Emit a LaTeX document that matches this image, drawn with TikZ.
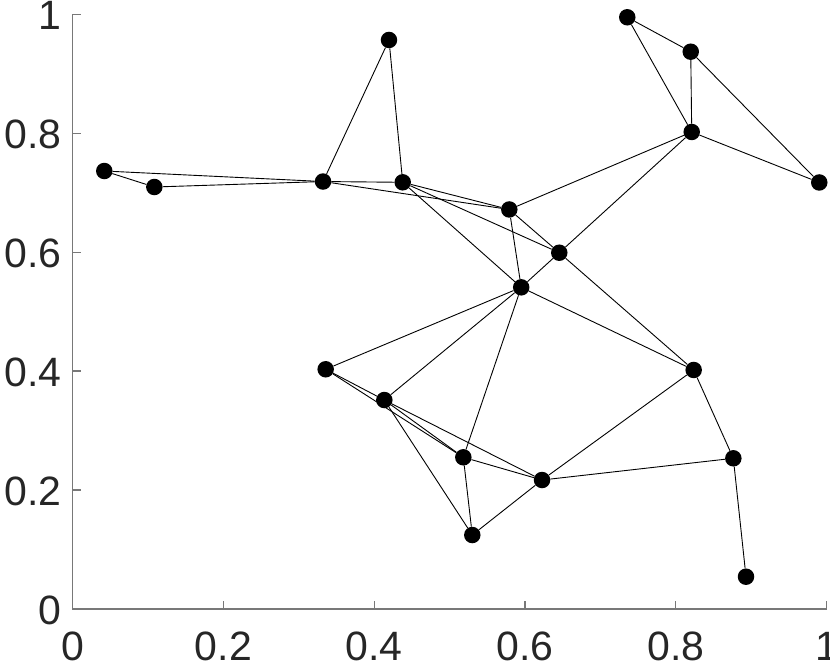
\documentclass[tikz,border=0pt]{standalone}
\usepackage{fontspec}
\setmainfont{Liberation Sans}
\definecolor{axisgray}{RGB}{120,120,120}
\definecolor{ticktext}{RGB}{38,38,38}
\begin{document}
\begin{tikzpicture}[x=753.8pt,y=594.7pt,
  vtx/.style={circle,fill=black,inner sep=0pt,minimum size=16.5pt},
  edge/.style={draw=black,line width=0.9pt},
  axisline/.style={draw=axisgray,line width=1.3pt},
  ticklbl/.style={text=ticktext,font=\fontsize{41}{41}\selectfont,inner sep=0pt}]
\useasboundingbox (-72.7pt,-56pt) rectangle (757.3pt,609pt);
% axes
\draw[axisline] (0,1) -- (0,0) -- (1,0);
\foreach \t [count=\i] in {0,0.2,0.4,0.6,0.8,1}{
  \draw[axisline] (\t,0) -- ++(0,8pt);
  \draw[axisline] (0,\t) -- ++(8pt,0);
  \node[ticklbl,anchor=base,yshift=-51pt] (xl\i) at (\t,0) {\t};
  \node[ticklbl,anchor=base east,xshift=-11pt,yshift=-15pt] (yl\i) at (0,\t) {\t};
}
% vertices
\node[vtx] (n1) at (0.0419,0.7365) {};
\node[vtx] (n2) at (0.1083,0.7096) {};
\node[vtx] (n3) at (0.3321,0.7188) {};
\node[vtx] (n4) at (0.4196,0.9568) {};
\node[vtx] (n5) at (0.4378,0.7175) {};
\node[vtx] (n6) at (0.5792,0.6718) {};
\node[vtx] (n7) at (0.6455,0.5991) {};
\node[vtx] (n8) at (0.5950,0.5409) {};
\node[vtx] (n9) at (0.7357,0.9950) {};
\node[vtx] (n10) at (0.8199,0.9371) {};
\node[vtx] (n11) at (0.8212,0.8021) {};
\node[vtx] (n12) at (0.9904,0.7172) {};
\node[vtx] (n13) at (0.3356,0.4031) {};
\node[vtx] (n14) at (0.4134,0.3514) {};
\node[vtx] (n15) at (0.5182,0.2551) {};
\node[vtx] (n16) at (0.6226,0.2169) {};
\node[vtx] (n17) at (0.5301,0.1244) {};
\node[vtx] (n18) at (0.8238,0.4019) {};
\node[vtx] (n19) at (0.8764,0.2534) {};
\node[vtx] (n20) at (0.8932,0.0543) {};
% edges
\foreach \a/\b in {1/2,1/3,2/3,3/4,3/5,3/6,4/5,5/6,5/7,5/8,6/7,6/8,6/11,7/8,7/11,7/18,
  8/13,8/14,8/15,8/18,9/10,9/11,10/11,10/12,11/12,13/14,13/15,14/15,14/16,14/17,
  15/16,15/17,16/17,16/18,16/19,18/19,19/20}{
  \draw[edge] (n\a) -- (n\b);
}
\end{tikzpicture}
\end{document}
